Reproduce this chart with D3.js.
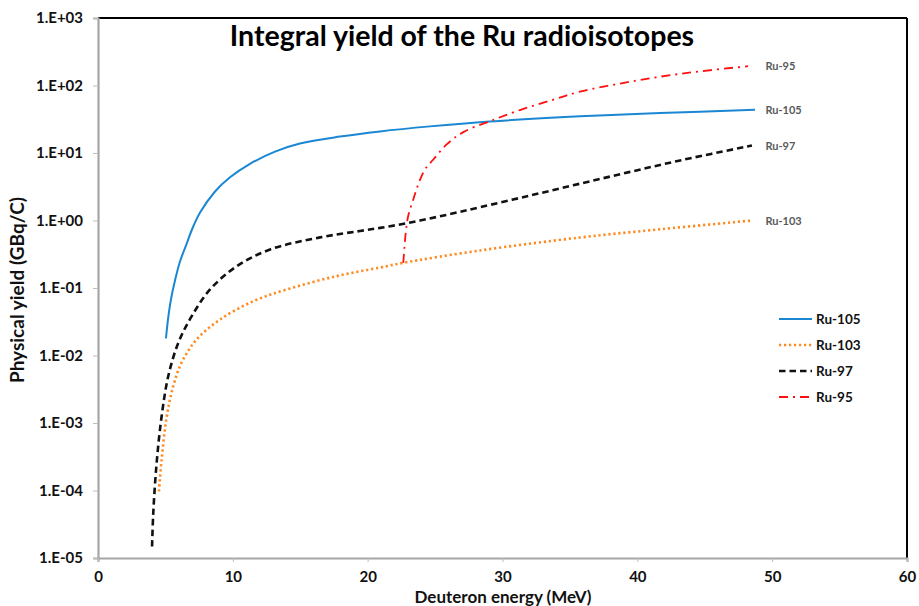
<!DOCTYPE html>
<html>
<head>
<meta charset="utf-8">
<script src="https://cdn.jsdelivr.net/npm/d3@7"></script>
<style>
  html, body { margin: 0; padding: 0; background: #fff; }
  svg { display: block; font-family: Lato, "Open Sans", sans-serif; }
</style>
</head>
<body>
<svg id="chart" width="919" height="606"></svg>
<script>
// Deuteron energy (MeV) and integral physical yield (GBq/C) per isotope
const ru105E = [5.04, 5.19, 5.41, 5.71, 6.08, 6.53, 6.97, 7.57, 8.68, 9.79, 11.27, 13.13, 14.98, 17.95, 20.92, 24.62, 29.07, 35.75, 41.68, 48.73];
const ru105Y = [0.0179, 0.0341, 0.0676, 0.129, 0.247, 0.427, 0.736, 1.31, 2.69, 4.37, 6.92, 10.5, 13.8, 17.5, 20.9, 24.8, 29.3, 34.9, 39.0, 43.8];

const ru103E = [4.52, 4.72, 5.10, 5.58, 6.21, 7.32, 9.05, 11.52, 14.0, 17.7, 20.92, 22.64, 28.33, 35.75, 41.68, 48.5];
const ru103Y = [0.000097, 0.000288, 0.00126, 0.00351, 0.00794, 0.0173, 0.0341, 0.0638, 0.0951, 0.150, 0.201, 0.236, 0.360, 0.560, 0.741, 1.0];

const ru97E = [4.01, 4.10, 4.35, 4.72, 5.21, 5.96, 6.95, 8.31, 10.29, 12.76, 16.47, 19.43, 21.66, 23.88, 26.11, 28.33, 32.04, 35.75, 39.46, 43.17, 48.5];
const ru97Y = [0.0000148, 0.0000468, 0.000257, 0.00126, 0.00493, 0.0155, 0.0382, 0.0951, 0.210, 0.372, 0.562, 0.70, 0.822, 1.0, 1.245, 1.574, 2.34, 3.51, 5.25, 7.76, 12.9];

const ru95E = [22.64, 22.73, 22.84, 23.01, 23.38, 23.76, 24.25, 24.87, 25.86, 27.09, 29.07, 31.3, 33.77, 35.75, 38.72, 41.69, 44.65, 48.21];
const ru95Y = [0.236, 0.398, 0.708, 1.175, 2.05, 3.47, 5.70, 8.02, 13.4, 20.4, 29.6, 43.3, 61.7, 81.3, 107, 135, 162, 193];

const seriesNames = ["Ru-105", "Ru-103", "Ru-97", "Ru-95"];
const xTicks = [0, 10, 20, 30, 40, 50, 60];
const yTicks = [1e-5, 1e-4, 1e-3, 1e-2, 1e-1, 1e0, 1e1, 1e2, 1e3];

const series = [
  { name: seriesNames[0], E: ru105E, Y: ru105Y, color: "#1b87d3", width: 2, dash: null },
  { name: seriesNames[1], E: ru103E, Y: ru103Y, color: "#ff8a1f", width: 2.6, dash: "2.2,2.8" },
  { name: seriesNames[2], E: ru97E, Y: ru97Y, color: "#111111", width: 2.6, dash: "6.5,4" },
  { name: seriesNames[3], E: ru95E, Y: ru95Y, color: "#ff1010", width: 1.8, dash: "9,5,2,5" }
];

const svg = d3.select("#chart");
const plotL = 98, plotR = 907, plotT = 18, plotB = 558;

const x = d3.scaleLinear().domain([0, 60]).range([plotL, plotR]);
const y = d3.scaleLog().domain([1e-5, 1e3]).range([plotB, plotT]);

const fmtExp = v => {
  const e = Math.round(Math.log10(v));
  const s = String(Math.abs(e)).padStart(2, "0");
  return "1.E" + (e >= 0 ? "+" : "-") + s;
};

// plot frame: black top/right edges
svg.append("line").attr("x1", plotL).attr("x2", plotR).attr("y1", plotT).attr("y2", plotT)
  .attr("stroke", "#000").attr("stroke-width", 2);
svg.append("line").attr("x1", plotR).attr("x2", plotR).attr("y1", plotT).attr("y2", plotB)
  .attr("stroke", "#000").attr("stroke-width", 2);

// y axis
const yAxis = svg.append("g").attr("transform", `translate(${plotL},0)`)
  .call(d3.axisLeft(y).tickValues(yTicks).tickFormat(fmtExp).tickSize(5).tickPadding(10));
yAxis.select(".domain").attr("stroke", "#a6a6a6").attr("stroke-width", 2.2);
yAxis.selectAll(".tick line").attr("stroke", "#bdbdbd").attr("stroke-width", 1);
yAxis.selectAll(".tick text").attr("font-family", "Lato, sans-serif").attr("font-weight", "bold")
  .attr("font-size", 15).attr("fill", "#111");

// x axis
const xAxis = svg.append("g").attr("transform", `translate(0,${plotB})`)
  .call(d3.axisBottom(x).tickValues(xTicks).tickFormat(d3.format("d")).tickSize(4).tickPadding(9));
xAxis.select(".domain").attr("stroke", "#a6a6a6").attr("stroke-width", 2.2);
xAxis.selectAll(".tick line").attr("stroke", "#bdbdbd").attr("stroke-width", 1);
xAxis.selectAll(".tick text").attr("font-family", "Lato, sans-serif").attr("font-weight", "bold")
  .attr("font-size", 15).attr("fill", "#111");

// curves
const line = d3.line().x(d => x(d[0])).y(d => y(d[1])).curve(d3.curveCatmullRom.alpha(0.5));
series.forEach(s => {
  const pts = s.E.map((e, i) => [e, s.Y[i]]);
  svg.append("path").datum(pts).attr("d", line)
    .attr("fill", "none").attr("stroke", s.color).attr("stroke-width", s.width)
    .attr("stroke-dasharray", s.dash);
  // name beside the end of each curve
  const last = pts[pts.length - 1];
  svg.append("text").attr("x", x(49.5)).attr("y", y(last[1]) + 4)
    .attr("font-family", "Lato, sans-serif").attr("font-weight", "bold").attr("font-size", 11)
    .attr("fill", "#595959").text(s.name);
});

// legend
const legend = svg.append("g");
series.forEach((s, i) => {
  const ly = 319 + i * 26;
  legend.append("line").attr("x1", 779).attr("x2", 812).attr("y1", ly).attr("y2", ly)
    .attr("stroke", s.color).attr("stroke-width", s.width)
    .attr("stroke-dasharray", s.dash);
  legend.append("text").attr("x", 816).attr("y", ly + 5)
    .attr("font-family", "Lato, sans-serif").attr("font-weight", "bold").attr("font-size", 13.5)
    .attr("fill", "#111").text(s.name);
});

// title and axis titles
svg.append("text").attr("x", 462).attr("y", 46).attr("text-anchor", "middle")
  .attr("font-family", "Lato, sans-serif").attr("font-weight", "bold").attr("font-size", 28.5)
  .attr("fill", "#000").text("Integral yield of the Ru radioisotopes");

svg.append("text").attr("x", 503).attr("y", 603).attr("text-anchor", "middle")
  .attr("font-family", "Lato, sans-serif").attr("font-weight", "bold").attr("font-size", 17)
  .attr("fill", "#111").text("Deuteron energy (MeV)");

svg.append("text").attr("transform", "translate(24,290) rotate(-90)").attr("text-anchor", "middle")
  .attr("font-family", "Lato, sans-serif").attr("font-weight", "bold").attr("font-size", 19)
  .attr("fill", "#111").text("Physical yield (GBq/C)");
</script>
</body>
</html>
